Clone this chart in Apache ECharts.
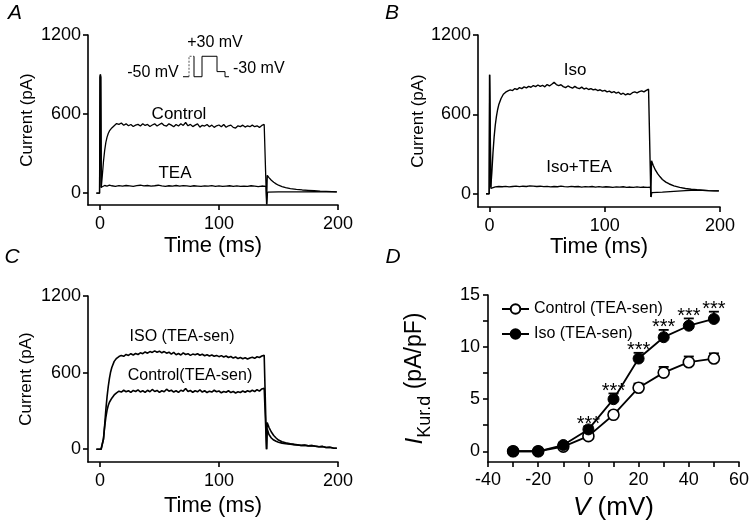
<!DOCTYPE html>
<html><head><meta charset="utf-8">
<script src="https://cdn.jsdelivr.net/npm/echarts@6/dist/echarts.min.js"></script>
<style>html,body{margin:0;padding:0;background:#fff}#c{width:754px;height:527px}</style>
</head><body><div id="c"></div>
<script>
const FONT = "'Liberation Sans', Arial, Helvetica, sans-serif";

// ---- Panel A: current traces (ms, pA)
const aControl = [[-3,0],[-0.3,0],[0,880],[0.6,900],[1.1,40],[2,130],[3,240],[4,325],[5,385],[6,425],[7,452],[8,472],[10,495],[12,512],[14,528],[16,522],[18,532],[20,515],[22,526],[24,511],[26,521],[28,506],[30,516],[32,522],[34,510],[36,527],[38,514],[40,521],[42,506],[44,517],[46,526],[48,509],[50,521],[52,531],[54,514],[56,509],[58,526],[60,516],[62,504],[64,521],[66,510],[68,527],[70,514],[72,536],[74,511],[76,522],[78,505],[80,516],[82,526],[84,501],[86,515],[88,509],[90,521],[92,504],[94,516],[96,499],[98,511],[100,517],[102,504],[104,521],[106,500],[108,511],[110,516],[112,499],[114,494],[116,511],[118,505],[120,516],[122,501],[124,511],[126,504],[128,516],[130,504],[132,511],[134,499],[136,514],[138,521],[139.6,512],[140,-85],[140.6,135],[142,118],[144,98],[146,82],[148,70],[150,60],[153,50],[156,42],[160,35],[165,28],[170,24],[175,21],[180,18],[185,15],[190,13],[195,11],[199,9]];
const aTEA = [[-3,0],[-0.3,0],[0.2,900],[0.8,880],[1.2,45],[2,55],[4,58],[6,54],[8,60],[10,56],[13,52],[16,57],[19,54],[22,58],[25,55],[28,52],[31,57],[34,60],[37,55],[40,58],[43,53],[46,56],[49,60],[52,55],[55,52],[58,56],[61,54],[64,58],[67,53],[70,57],[73,55],[76,52],[79,56],[82,54],[85,51],[88,55],[91,53],[94,57],[97,52],[100,55],[103,51],[106,54],[109,56],[112,52],[115,55],[118,51],[121,54],[124,52],[127,56],[130,53],[133,50],[136,54],[139.6,52],[140.2,-85],[140.8,8],[150,9],[160,10],[170,10],[180,11],[190,10],[199,10]];

// ---- Panel B
const bIso = [[-3,0],[-0.3,0],[0,900],[0.7,910],[1.1,50],[2,160],[3,310],[4,430],[5,520],[6,585],[7,635],[8,672],[10,720],[12,752],[14,768],[16,778],[18,785],[20,780],[22,795],[24,788],[26,802],[28,795],[30,808],[32,800],[34,812],[36,805],[38,818],[40,810],[42,822],[44,812],[46,820],[48,808],[50,825],[52,815],[54,828],[56,842],[58,825],[60,818],[62,824],[64,810],[66,802],[68,815],[70,806],[72,798],[74,812],[76,800],[78,795],[80,806],[82,792],[84,798],[86,788],[88,795],[90,785],[92,790],[94,780],[96,786],[98,776],[100,782],[102,770],[104,776],[106,765],[108,772],[110,760],[112,768],[114,752],[116,760],[118,748],[120,756],[122,750],[124,764],[126,770],[128,762],[130,772],[132,778],[134,770],[136,782],[138,790],[139.6,780],[140,-25],[140.6,250],[142,215],[144,178],[146,150],[148,128],[150,108],[153,88],[156,74],[160,60],[165,48],[170,40],[175,34],[180,30],[185,27],[190,24],[195,22],[199,22]];
const bIsoTEA = [[-3,0],[-0.3,0],[0.2,900],[0.8,890],[1.2,40],[2,50],[5,52],[8,55],[11,53],[14,56],[17,52],[20,55],[23,58],[26,54],[29,57],[32,55],[35,60],[38,58],[41,55],[44,57],[47,54],[50,56],[53,52],[56,55],[59,53],[62,57],[65,54],[68,52],[71,56],[74,53],[77,55],[80,51],[83,54],[86,52],[89,55],[92,51],[95,54],[98,50],[101,53],[104,51],[107,49],[110,52],[113,50],[116,53],[119,49],[122,51],[125,48],[128,52],[131,49],[134,51],[137,48],[139.6,50],[140.2,-25],[140.8,8],[150,12],[160,18],[170,24],[180,27],[190,24],[199,22]];

// ---- Panel C
const cIso = [[-3,0],[1,0],[1.8,8],[3,80],[4,190],[5,310],[6,410],[7,490],[8,555],[9,605],[10,640],[12,688],[14,712],[16,726],[18,735],[20,728],[22,742],[24,735],[26,748],[28,738],[30,750],[32,742],[34,755],[36,748],[38,762],[40,752],[42,765],[44,758],[46,770],[48,760],[50,768],[52,755],[54,765],[56,752],[58,760],[60,745],[62,758],[64,740],[66,750],[68,738],[70,755],[72,742],[74,748],[76,735],[78,745],[80,740],[82,748],[84,736],[86,744],[88,732],[90,740],[92,730],[94,738],[96,728],[98,735],[100,725],[102,733],[104,722],[106,730],[108,718],[110,726],[112,714],[114,722],[116,710],[118,718],[120,708],[122,716],[124,706],[126,715],[128,720],[130,712],[132,724],[134,718],[136,730],[138,735],[139.6,720],[140,0],[140.5,210],[142,172],[144,135],[146,108],[148,88],[150,72],[153,58],[156,50],[160,42],[163,38],[166,34],[169,30],[172,32],[175,27],[178,29],[181,24],[184,20],[187,22],[190,14],[193,16],[196,10],[199,8]];
const cControl = [[-3,0],[1,0],[1.8,8],[3,80],[4,175],[5,250],[6,305],[7,342],[8,368],[10,400],[12,425],[14,442],[16,455],[18,448],[20,462],[22,450],[24,458],[26,445],[28,460],[30,452],[32,465],[34,448],[36,458],[38,445],[40,462],[42,450],[44,468],[46,452],[48,460],[50,445],[52,458],[54,450],[56,470],[58,455],[60,462],[62,448],[64,458],[66,445],[68,462],[70,455],[72,475],[74,452],[76,460],[78,446],[80,458],[82,450],[84,464],[86,448],[88,458],[90,444],[92,455],[94,448],[96,462],[98,450],[100,456],[102,442],[104,452],[106,446],[108,458],[110,444],[112,452],[114,440],[116,450],[118,444],[120,456],[122,446],[124,458],[126,450],[128,462],[130,452],[132,466],[134,455],[136,472],[138,478],[139.6,465],[140,0],[140.5,160],[142,115],[144,88],[146,72],[148,62],[150,55],[153,48],[156,44],[160,40],[163,36],[166,33],[169,29],[172,31],[175,26],[178,28],[181,23],[184,19],[187,21],[190,13],[193,15],[196,9],[199,8]];

// ---- Inset voltage protocol (arbitrary time, mV)
const protoPre = [[6,-50],[6,30],[11,30]];
const protoHold = [[0,-50],[6,-50]];
const protoMain = [[11,30],[11,-50],[19,-50],[19,30],[34,30],[34,-30],[42,-30],[42,-50],[46,-50]];

// ---- Panel D: I-V relation
const vSteps  = [-30,-20,-10,0,10,20,30,40,50];
const ctrlMean = [0,0,0.45,1.45,3.5,6.1,7.55,8.55,8.9];
const ctrlSem  = [0.1,0.1,0.2,0.25,0.3,0.4,0.55,0.55,0.5];
const isoMean  = [0,0,0.6,2.1,5.0,8.9,10.95,12.05,12.7];
const isoSem   = [0.1,0.1,0.2,0.3,0.55,0.55,0.7,0.7,0.7];
const isoSig   = [0,0,0,1,1,1,1,1,1];
const sigText = '***';

// ticks
const timeTicks = [0,100,200];
const currTicks = [0,600,1200];
const dXTicks = [-40,-30,-20,-10,0,10,20,30,40,50,60];
const dXLabels = [-40,-20,0,20,40,60];
const dYTicks = [0,2.5,5,7.5,10,12.5,15];
const dYLabels = [0,5,10,15];

function axis(o) {
  return {
    type:'value', splitLine:{show:false},
    axisLine:{show:true, onZero:false, lineStyle:{color:'#000', width:1.6}},
    axisTick:{show:true, length:5, lineStyle:{color:'#000', width:1.6}, customValues:o.ticks},
    axisLabel:{color:'#000', fontSize:18, fontFamily:FONT, margin:o.margin, customValues:o.labels, formatter:(v)=>String(v)},
    name:o.name, nameLocation:'middle', nameGap:o.nameGap, nameRotate:o.nameRotate,
    nameTextStyle:Object.assign({color:'#000', fontFamily:FONT}, o.nameStyle||{}),
    gridIndex:o.grid, min:o.min, max:o.max
  };
}
const trace = (data, xi, w) => ({type:'line', data, xAxisIndex:xi, yAxisIndex:xi, symbol:'none', showSymbol:false,
  lineStyle:{color:'#000', width:w||1.3}, animation:false, silent:true, z:3});

const ivData = (means, sems, sig) => vSteps.map((v,i)=>[v, means[i], sems[i], sig ? sig[i] : 0]);
function errRender(params, api) {
  const x = api.value(0), m = api.value(1), e = api.value(2), s = api.value(3);
  const base = api.coord([x, m]), top = api.coord([x, m + e]);
  const ch = [
    {type:'line', shape:{x1:base[0], y1:base[1], x2:top[0], y2:top[1]}, style:{stroke:'#000', lineWidth:1.6}},
    {type:'line', shape:{x1:top[0]-5, y1:top[1], x2:top[0]+5, y2:top[1]}, style:{stroke:'#000', lineWidth:1.8}}
  ];
  if (s) ch.push({type:'text', x:top[0], y:top[1]+8, style:{text:sigText, fontSize:20, fontFamily:FONT, fill:'#000', textAlign:'center', textVerticalAlign:'bottom', verticalAlign:'bottom'}});
  return {type:'group', children:ch};
}

const txt = (t, x, y, size, extra) => Object.assign({type:'text', x, y, silent:true,
  style:Object.assign({text:t, fontSize:size, fontFamily:FONT, fill:'#000', textAlign:'center', textVerticalAlign:'middle', verticalAlign:'middle'}, (extra||{}))});

const chart = echarts.init(document.getElementById('c'), null, {renderer:'canvas'});
chart.setOption({
  animation:false,
  backgroundColor:'#fff',
  grid:[
    {left:88, top:35, width:250, height:170, outerBoundsMode:'none'},
    {left:478, top:35, width:242, height:172, outerBoundsMode:'none'},
    {left:88, top:296, width:250, height:166, outerBoundsMode:'none'},
    {left:488, top:295, width:251, height:167, outerBoundsMode:'none'},
    {left:183, top:55, width:52, height:23, outerBoundsMode:'none'}
  ],
  xAxis:[
    axis({grid:0, min:-10, max:200, ticks:timeTicks, labels:timeTicks, margin:10, name:'Time (ms)', nameGap:30, nameStyle:{fontSize:22}}),
    axis({grid:1, min:-10, max:200, ticks:timeTicks, labels:timeTicks, margin:10, name:'Time (ms)', nameGap:28, nameStyle:{fontSize:22}}),
    axis({grid:2, min:-10, max:200, ticks:timeTicks, labels:timeTicks, margin:10, name:'Time (ms)', nameGap:33, nameStyle:{fontSize:22}}),
    axis({grid:3, min:-40, max:60, ticks:dXTicks, labels:dXLabels, margin:9, name:'{v|V} (mV)', nameGap:33,
      nameStyle:{fontSize:26, rich:{v:{fontSize:26, fontStyle:'italic', fontFamily:FONT, color:'#000'}}}}),
    {gridIndex:4, type:'value', min:0, max:52, show:false}
  ],
  yAxis:[
    axis({grid:0, min:-90, max:1200, ticks:currTicks, labels:currTicks, margin:7, name:'Current (pA)', nameGap:52, nameRotate:90, nameStyle:{fontSize:17}}),
    axis({grid:1, min:-100, max:1200, ticks:currTicks, labels:currTicks, margin:7, name:'Current (pA)', nameGap:39, nameRotate:90, nameStyle:{fontSize:17}}),
    axis({grid:2, min:-100, max:1200, ticks:currTicks, labels:currTicks, margin:7, name:'Current (pA)', nameGap:53, nameRotate:90, nameStyle:{fontSize:17}}),
    axis({grid:3, min:-1.03, max:15, ticks:dYTicks, labels:dYLabels, margin:8, name:'{i|I}{s|Kur.d} (pA/pF)', nameGap:54, nameRotate:90,
      nameStyle:{fontSize:23, rich:{i:{fontSize:24, fontStyle:'italic', fontFamily:FONT, color:'#000'}, s:{fontSize:18, fontFamily:FONT, color:'#000', padding:[20,0,0,0]}}}}),
    {gridIndex:4, type:'value', min:-55, max:35, show:false}
  ],
  legend:{left:496, top:296, orient:'vertical', itemWidth:27, itemHeight:12, itemGap:9,
    textStyle:{color:'#000', fontSize:16, fontFamily:FONT}, data:['Control (TEA-sen)','Iso (TEA-sen)']},
  series:[
    trace(aControl,0,1.3), trace(aTEA,0,1.3),
    trace(bIso,1,1.4), trace(bIsoTEA,1,1.3),
    trace(cIso,2,1.6), trace(cControl,2,1.6),
    {type:'line', data:protoHold, xAxisIndex:4, yAxisIndex:4, symbol:'none', lineStyle:{color:'#000', width:1}, silent:true},
    {type:'line', data:protoPre, xAxisIndex:4, yAxisIndex:4, symbol:'none', lineStyle:{color:'#555', width:1, type:[2,1.5]}, silent:true},
    {type:'line', data:protoMain, xAxisIndex:4, yAxisIndex:4, symbol:'none', lineStyle:{color:'#000', width:1}, silent:true},
    {type:'custom', xAxisIndex:3, yAxisIndex:3, data:ivData(ctrlMean, ctrlSem), renderItem:errRender, z:1, silent:true},
    {type:'custom', xAxisIndex:3, yAxisIndex:3, data:ivData(isoMean, isoSem, isoSig), renderItem:errRender, z:1, silent:true},
    {name:'Control (TEA-sen)', type:'line', xAxisIndex:3, yAxisIndex:3, data:vSteps.map((v,i)=>[v, ctrlMean[i]]),
      symbol:'circle', symbolSize:11, showSymbol:true, lineStyle:{color:'#000', width:1.8},
      itemStyle:{color:'#fff', borderColor:'#000', borderWidth:1.6}, z:4},
    {name:'Iso (TEA-sen)', type:'line', xAxisIndex:3, yAxisIndex:3, data:vSteps.map((v,i)=>[v, isoMean[i]]),
      symbol:'circle', symbolSize:11, showSymbol:true, lineStyle:{color:'#000', width:1.8},
      itemStyle:{color:'#000', borderColor:'#000', borderWidth:1}, z:4}
  ],
  graphic:[
    txt('A', 15, 13, 21, {fontStyle:'italic'}),
    txt('B', 392, 13, 21, {fontStyle:'italic'}),
    txt('C', 12, 257, 21, {fontStyle:'italic'}),
    txt('D', 393, 257, 21, {fontStyle:'italic'}),
    txt('Control', 179, 114, 17),
    txt('TEA', 175, 173, 17),
    txt('+30 mV', 215, 43, 16),
    txt('-50 mV', 153, 73, 16),
    txt('-30 mV', 233, 69, 16, {textAlign:'left'}),
    txt('Iso', 575, 70, 17),
    txt('Iso+TEA', 579, 167, 17),
    txt('ISO (TEA-sen)', 182, 337, 16),
    txt('Control(TEA-sen)', 190, 376, 16)
  ]
});
</script></body></html>
